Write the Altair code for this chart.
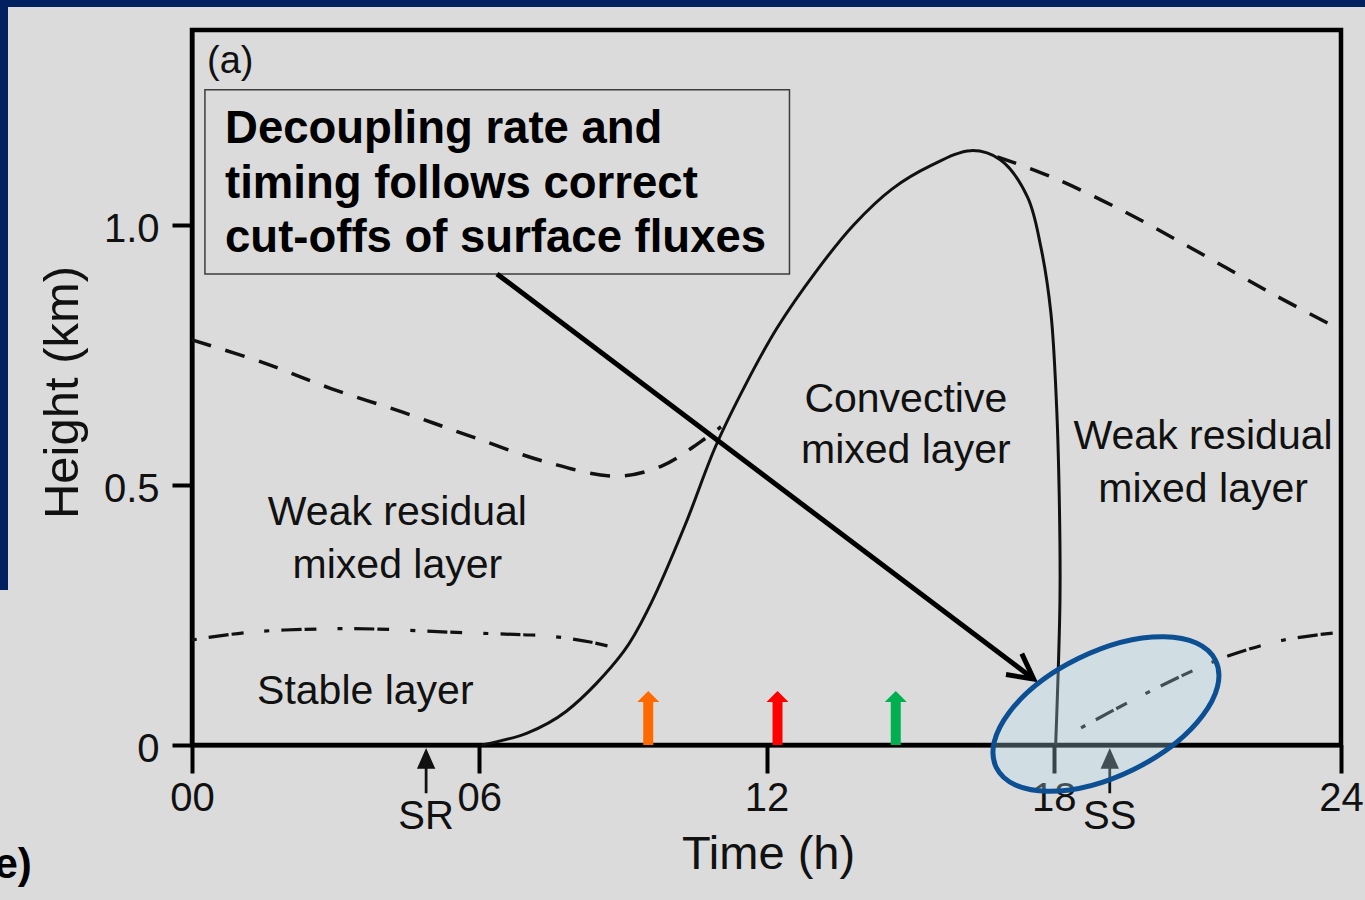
import altair as alt
import pandas as pd

FONT = "Liberation Sans, Arial, Helvetica, sans-serif"
BG = "#dbdbdb"
NAVY = "#002060"
INK = "#111111"

# ---------------- data ----------------
# Convective mixed layer top (solid)
solid_t = [6.05, 7.0, 7.82, 9.01, 9.58, 10.30, 10.94, 11.58, 12.22, 13.03, 13.82,
           14.62, 15.43, 16.27, 16.89, 17.45, 17.73, 17.94, 18.06, 18.12, 18.13, 18.04]
solid_h = [0.0, 0.023, 0.065, 0.179, 0.271, 0.423, 0.575, 0.696, 0.802, 0.910, 1.0,
           1.069, 1.114, 1.143, 1.125, 1.054, 0.958, 0.831, 0.65, 0.45, 0.28, 0.0]

# Residual layer top (dashed)
resid_l_t = [0.0, 1.5, 2.89, 4.4, 5.81, 7.41, 8.86, 9.82, 10.62, 11.05]
resid_l_h = [0.779, 0.735, 0.686, 0.64, 0.594, 0.544, 0.517, 0.537, 0.583, 0.612]
resid_r_t = [16.82, 17.94, 19.47, 21.0, 22.54, 24.0]
resid_r_h = [1.131, 1.093, 1.026, 0.949, 0.869, 0.798]

# Stable layer top (dash-dot)
stab_l_t = [0.0, 1.21, 2.61, 3.86, 5.39, 6.92, 7.41, 8.32, 9.01]
stab_l_h = [0.202, 0.217, 0.223, 0.223, 0.217, 0.212, 0.21, 0.198, 0.183]
stab_r_t = [18.57, 19.54, 20.93, 21.7, 22.81, 24.0]
stab_r_h = [0.033, 0.081, 0.144, 0.173, 0.202, 0.217]

# region labels
lab_text = ["Weak residual", "mixed layer", "Stable layer", "Convective",
            "mixed layer", "Weak residual", "mixed layer"]
lab_t = [4.29, 4.29, 3.62, 14.91, 14.91, 21.12, 21.12]
lab_h = [0.423, 0.321, 0.079, 0.640, 0.542, 0.569, 0.467]

# coloured flux arrows
flux_t = [9.53, 12.23, 14.70]
flux_c = ["#ff6a00", "#ff0000", "#00b050"]

# sunrise / sunset markers
sun_t = [4.89, 19.17]
sun_lab = ["SR", "SS"]

# annotation box
box_lines = ["Decoupling rate and", "timing follows correct", "cut-offs of surface fluxes"]
box_line_h = [1.158, 1.052, 0.948]
box_t0, box_t1, box_h0, box_h1 = 0.27, 12.48, 0.906, 1.26
box_text_t = 0.69

# big arrow
arr_t0, arr_h0, arr_t1, arr_h1 = 6.37, 0.906, 17.58, 0.127

# highlight ellipse centre
ell_t, ell_h = 19.09, 0.0596

# ---------------- chart ----------------
W, H = 1149, 715
xs = alt.Scale(domain=[0, 24], nice=False, zero=False)
ys = alt.Scale(domain=[0, 1.375], nice=False, zero=False)

x_axis = alt.Axis(
    values=[0, 6, 12, 18, 24],
    labelExpr="datum.value < 10 ? '0' + datum.value : '' + datum.value",
    title="Time (h)", grid=False,
    domainColor="black", domainWidth=4, tickColor="black", tickWidth=4, tickSize=28,
    labelFont=FONT, labelFontSize=40, labelColor=INK, labelPadding=37,
    labelBaseline="alphabetic", labelFlush=False, labelOverlap=False,
    titleFont=FONT, titleFontSize=47, titleFontWeight="normal", titleColor=INK,
    titleX=576, titleY=123, titleBaseline="alphabetic", titleAlign="center",
    zindex=0,
)
y_axis = alt.Axis(
    values=[0, 0.5, 1.0],
    labelExpr="datum.value == 0 ? '0' : format(datum.value, '.1f')",
    title="Height (km)", grid=False,
    domainColor="black", domainWidth=4, tickColor="black", tickWidth=4, tickSize=20,
    labelFont=FONT, labelFontSize=40, labelColor=INK, labelPadding=13,
    labelBaseline="middle", labelOffset=4, labelOverlap=False,
    titleFont=FONT, titleFontSize=49, titleFontWeight="normal", titleColor=INK,
    titleAngle=270, titleX=-115, titleY=362, titleBaseline="alphabetic",
    titleAlign="center", zindex=0,
)


def X(f):
    return alt.X(f, type="quantitative", scale=xs, axis=x_axis)


def Y(f):
    return alt.Y(f, type="quantitative", scale=ys, axis=y_axis)


one = pd.DataFrame({"k": [0]})

# navy slide frame (decoration)
navy_top = alt.Chart(one).mark_rect(color=NAVY).encode(
    x=alt.value(-192), x2=alt.value(1365 - 192), y=alt.value(-30), y2=alt.value(-23))
navy_left = alt.Chart(one).mark_rect(color=NAVY).encode(
    x=alt.value(-192), x2=alt.value(-184), y=alt.value(-30), y2=alt.value(560))


def curve(ts, hs, name):
    return pd.DataFrame({"t": ts, "h": hs, "i": list(range(len(ts))), "c": name})


solid_df = curve(solid_t, solid_h, "cml")
solid = alt.Chart(solid_df).mark_line(
    color=INK, strokeWidth=3, interpolate="catmull-rom").encode(
    x=X("t"), y=Y("h"), order="i:Q")

dashed_df = pd.concat([curve(resid_l_t, resid_l_h, "L"), curve(resid_r_t, resid_r_h, "R")])
dashed = alt.Chart(dashed_df).mark_line(
    color=INK, strokeWidth=3.5, strokeDash=[20, 15], interpolate="catmull-rom").encode(
    x=X("t"), y=Y("h"), detail="c:N", order="i:Q")

dd_df = pd.concat([curve(stab_l_t, stab_l_h, "L"), curve(stab_r_t, stab_r_h, "R")])
dashdot = alt.Chart(dd_df).mark_line(
    color=INK, strokeWidth=3.2, strokeDash=[5, 12, 20, 3, 12, 21],
    interpolate="catmull-rom").encode(
    x=X("t"), y=Y("h"), detail="c:N", order="i:Q")

lab_df = pd.DataFrame({"t": lab_t, "h": lab_h, "s": lab_text})
labels = alt.Chart(lab_df).mark_text(
    font=FONT, fontSize=41, color=INK, align="center", baseline="alphabetic").encode(
    x=X("t"), y=Y("h"), text="s:N")

panel_df = pd.DataFrame({"t": [0.314], "h": [1.292], "s": ["(a)"]})
panel = alt.Chart(panel_df).mark_text(
    font=FONT, fontSize=38, color=INK, align="left", baseline="alphabetic").encode(
    x=X("t"), y=Y("h"), text="s:N")

e_df = pd.DataFrame({"t": [-3.345], "h": [-0.256], "s": ["e)"]})
e_txt = alt.Chart(e_df).mark_text(
    font=FONT, fontSize=42, fontWeight="bold", color="black", align="right",
    baseline="alphabetic").encode(x=X("t"), y=Y("h"), text="s:N")

# box
box_df = pd.DataFrame({"t0": [box_t0], "t1": [box_t1], "h0": [box_h0], "h1": [box_h1]})
box = alt.Chart(box_df).mark_rect(fill=BG, stroke="#3c3c3c", strokeWidth=1.5).encode(
    x=X("t0"), x2="t1", y=Y("h0"), y2="h1")
box_txt_df = pd.DataFrame({"t": [box_text_t] * 3, "h": box_line_h, "s": box_lines})
box_txt = alt.Chart(box_txt_df).mark_text(
    font=FONT, fontSize=45.5, fontWeight="bold", color="black", align="left",
    baseline="alphabetic").encode(x=X("t"), y=Y("h"), text="s:N")

# coloured flux arrows
FLUX_PATH = ("M -0.185 0 L 0.185 0 L 0.185 -1.59 L 0.407 -1.59 L 0 -2 "
             "L -0.407 -1.59 L -0.185 -1.59 Z")
flux_df = pd.DataFrame({"t": flux_t, "h": [0.0] * 3, "c": flux_c})
flux = alt.Chart(flux_df).mark_point(
    shape=FLUX_PATH, size=2916, filled=True, opacity=1, strokeWidth=0).encode(
    x=X("t"), y=Y("h"), fill=alt.Fill("c:N", scale=None))

# SR / SS arrows
SUN_PATH = ("M 0 0 L 0.4 0.9 L 0.06 0.9 L 0.06 1.96 L -0.06 1.96 L -0.06 0.9 "
            "L -0.4 0.9 Z")
sun_df = pd.DataFrame({"t": sun_t, "h": [-0.006] * 2, "s": sun_lab, "hl": [-0.162] * 2})
sun_arrow = alt.Chart(sun_df).mark_point(
    shape=SUN_PATH, size=2116, filled=True, opacity=1, fill=INK, strokeWidth=0).encode(
    x=X("t"), y=Y("h"))
sun_text = alt.Chart(sun_df).mark_text(
    font=FONT, fontSize=40, color=INK, align="center", baseline="alphabetic").encode(
    x=X("t"), y=Y("hl"), text="s:N")

# big annotation arrow
arr_df = pd.DataFrame({"t0": [arr_t0], "h0": [arr_h0], "t1": [arr_t1], "h1": [arr_h1]})
arr_line = alt.Chart(arr_df).mark_rule(color="black", strokeWidth=5).encode(
    x=X("t0"), y=Y("h0"), x2="t1", y2="h1")
HEAD_PATH = "M -0.883 -0.469 L 0 0 L -0.883 0.469"
arr_head = alt.Chart(arr_df).mark_point(
    shape=HEAD_PATH, size=3136, angle=37, filled=False, stroke="black",
    strokeWidth=5, opacity=1, strokeJoin="miter").encode(x=X("t1"), y=Y("h1"))

# highlight ellipse
ELLIPSE = ("M 1 0 C 1 0.2806 0.5523 0.508 0 0.508 C -0.5523 0.508 -1 0.2806 -1 0 "
           "C -1 -0.2806 -0.5523 -0.508 0 -0.508 C 0.5523 -0.508 1 -0.2806 1 0 Z")
ell_df = pd.DataFrame({"t": [ell_t], "h": [ell_h]})
ellipse = alt.Chart(ell_df).mark_point(
    shape=ELLIPSE, size=59536, angle=334, filled=True, fill="#b5e6f6",
    fillOpacity=0.3, stroke="#0c4f93", strokeWidth=5, strokeOpacity=1,
    opacity=1).encode(x=X("t"), y=Y("h"))

chart = alt.layer(
    navy_top, navy_left, box, solid, dashed, dashdot, labels, panel, e_txt, box_txt,
    flux, sun_arrow, sun_text, arr_line, arr_head, ellipse,
).properties(
    width=W, height=H,
    padding={"left": 192, "top": 30, "right": 24, "bottom": 155},
    autosize=alt.AutoSizeParams(type="none"),
    background=BG,
).configure_view(stroke="black", strokeWidth=4.5)

chart.save("out.html", embed_options={"renderer": "svg", "actions": False})
